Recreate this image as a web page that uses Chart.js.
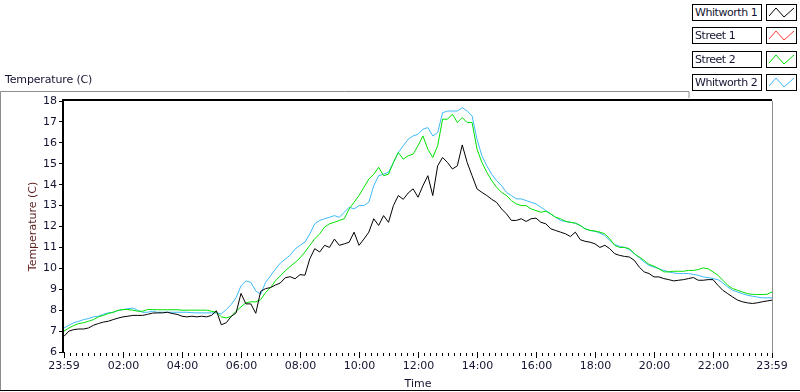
<!DOCTYPE html>
<html>
<head>
<meta charset="utf-8">
<script src="https://cdn.jsdelivr.net/npm/chart.js@4/dist/chart.umd.min.js"></script>
<style>
  html, body { margin: 0; padding: 0; background: #fff; }
  #wrap { position: relative; width: 800px; height: 392px; overflow: hidden; font-family: "DejaVu Sans", sans-serif; }
  #chart { position: absolute; left: 0; top: 0; }
  .caption { position: absolute; left: 5px; top: 73px; font-size: 11px; color: #141432; letter-spacing: -0.15px; }
  .legend-name { position: absolute; left: 692px; width: 70px; height: 17px; box-sizing: border-box; border: 1px solid #000;
                 font-size: 11px; line-height: 15px; padding-left: 2px; color: #141432; background: #fff; white-space: nowrap;
                 letter-spacing: -0.45px; overflow: hidden; }
  .legend-icon { position: absolute; left: 766px; width: 31px; height: 17px; box-sizing: border-box; border: 1px solid #000; background: #fff; }
  .legend-icon svg { position: absolute; left: 0; top: 0; }
</style>
</head>
<body>
<div id="wrap">
  <canvas id="chart" width="800" height="392"></canvas>
  <div class="caption">Temperature (C)</div>
  <div id="legend"></div>
</div>
<script>
        // minutes after 23:59 of the previous day, one sample every 10 minutes
        const sampleMinutes = [
            0, 10, 20, 30, 40, 50, 60, 70, 80, 90, 100, 110, 120, 130, 140, 150, 160, 170, 180, 190,
            200, 210, 220, 230, 240, 250, 260, 270, 280, 290, 300, 310, 320, 330, 340, 350, 360, 370, 380, 390,
            400, 410, 420, 430, 440, 450, 460, 470, 480, 490, 500, 510, 520, 530, 540, 550, 560, 570, 580, 590,
            600, 610, 620, 630, 640, 650, 660, 670, 680, 690, 700, 710, 720, 730, 740, 750, 760, 770, 780, 790,
            800, 810, 820, 830, 840, 850, 860, 870, 880, 890, 900, 910, 920, 930, 940, 950, 960, 970, 980, 990,
            1000, 1010, 1020, 1030, 1040, 1050, 1060, 1070, 1080, 1090, 1100, 1110, 1120, 1130, 1140, 1150, 1160, 1170, 1180, 1190,
            1200, 1210, 1220, 1230, 1240, 1250, 1260, 1270, 1280, 1290, 1300, 1310, 1320, 1330, 1340, 1350, 1360, 1370, 1380, 1390,
            1400, 1410, 1420, 1430, 1440
        ];

        const whitworth1 = [
            6.75, 7.0, 7.07, 7.1, 7.1, 7.15, 7.28, 7.36, 7.43, 7.47, 7.55, 7.62, 7.68, 7.71, 7.75, 7.75, 7.75, 7.8, 7.86, 7.87,
            7.87, 7.9, 7.84, 7.8, 7.71, 7.68, 7.71, 7.68, 7.71, 7.68, 7.75, 7.97, 7.3, 7.4, 7.7, 7.87, 8.8, 8.3, 8.3, 7.85,
            8.9, 9.03, 9.08, 9.2, 9.3, 9.55, 9.6, 9.5, 9.7, 9.67, 10.46, 10.94, 10.78, 11.1, 11.0, 11.4, 11.1, 11.17, 11.25, 11.73,
            11.1, 11.4, 11.73, 12.37, 12.05, 12.52, 12.2, 13.0, 13.48, 13.3, 13.6, 13.8, 13.4, 13.95, 14.43, 13.48, 14.9, 15.3, 15.06, 14.75,
            14.9, 15.9, 15.06, 14.43, 13.8, 13.63, 13.48, 13.3, 13.15, 12.84, 12.6, 12.29, 12.29, 12.37, 12.24, 12.37, 12.4, 12.2, 12.13, 11.89,
            11.81, 11.73, 11.65, 11.52, 11.73, 11.37, 11.29, 11.25, 11.17, 11.0, 11.1, 10.94, 10.7, 10.62, 10.57, 10.54, 10.38, 10.06, 9.83, 9.75,
            9.59, 9.59, 9.51, 9.46, 9.4, 9.43, 9.46, 9.51, 9.56, 9.43, 9.43, 9.46, 9.46, 9.19, 8.95, 8.79, 8.63, 8.48, 8.4, 8.35,
            8.32, 8.35, 8.4, 8.44, 8.48
        ];

        // Street 1 has no readings on this chart
        const street1 = [];

        const street2 = [
            7.0, 7.15, 7.27, 7.36, 7.4, 7.47, 7.55, 7.68, 7.75, 7.84, 7.9, 7.99, 8.03, 8.03, 8.0, 7.95, 7.95, 8.03, 8.03, 8.02,
            8.02, 8.02, 8.02, 8.02, 8.0, 8.0, 8.0, 8.0, 8.0, 8.0, 7.95, 7.9, 7.68, 7.63, 7.7, 7.95, 8.16, 8.35, 8.4, 8.4,
            8.5, 8.84, 9.08, 9.4, 9.64, 9.88, 10.09, 10.28, 10.5, 10.78, 11.1, 11.41, 11.65, 11.97, 12.13, 12.2, 12.29, 12.37, 12.84, 13.16,
            13.48, 13.87, 14.27, 14.5, 14.83, 14.43, 14.5, 15.06, 15.54, 15.22, 15.38, 15.46, 15.86, 16.33, 15.7, 15.3, 15.86, 17.13, 17.13, 17.37,
            16.97, 17.21, 16.97, 16.97, 15.7, 15.06, 14.59, 14.19, 13.87, 13.63, 13.48, 13.24, 13.08, 13.0, 13.0, 12.84, 12.76, 12.68, 12.73, 12.6,
            12.44, 12.37, 12.25, 12.2, 12.16, 12.05, 11.89, 11.81, 11.78, 11.73, 11.65, 11.41, 11.1, 11.0, 11.0, 10.94, 10.7, 10.54, 10.38, 10.19,
            10.1, 9.98, 9.83, 9.83, 9.86, 9.86, 9.86, 9.9, 9.9, 9.94, 10.02, 9.98, 9.83, 9.67, 9.43, 9.19, 9.03, 8.95, 8.87, 8.79,
            8.76, 8.75, 8.75, 8.76, 8.87
        ];

        const whitworth2 = [
            7.15, 7.28, 7.4, 7.47, 7.55, 7.6, 7.68, 7.71, 7.8, 7.87, 7.9, 7.99, 8.03, 8.07, 8.1, 7.99, 7.9, 7.9, 7.95, 7.9,
            7.9, 7.9, 7.9, 7.9, 7.9, 7.9, 7.88, 7.87, 7.87, 7.87, 7.87, 7.87, 7.82, 8.03, 8.27, 8.6, 9.16, 9.4, 9.33, 8.92,
            8.76, 9.33, 9.64, 9.96, 10.25, 10.44, 10.63, 10.92, 11.1, 11.25, 11.65, 12.13, 12.29, 12.37, 12.44, 12.52, 12.44, 12.68, 12.92, 12.84,
            13.0, 13.0, 13.16, 13.95, 14.43, 14.5, 14.59, 15.06, 15.54, 15.86, 16.17, 16.33, 16.41, 16.65, 16.73, 16.33, 16.49, 17.44, 17.52, 17.52,
            17.52, 17.68, 17.52, 17.29, 16.17, 15.38, 14.9, 14.5, 14.19, 13.95, 13.63, 13.48, 13.32, 13.32, 13.24, 13.16, 13.08, 12.92, 12.76, 12.6,
            12.44, 12.29, 12.24, 12.2, 12.16, 12.05, 11.89, 11.81, 11.78, 11.68, 11.57, 11.33, 11.14, 11.05, 11.0, 10.89, 10.7, 10.51, 10.3, 10.14,
            10.06, 9.98, 9.9, 9.83, 9.78, 9.75, 9.75, 9.75, 9.71, 9.67, 9.59, 9.56, 9.51, 9.46, 9.3, 9.11, 8.95, 8.87, 8.79, 8.71,
            8.67, 8.63, 8.59, 8.59, 8.59
        ];

        const seriesNames = ['Whitworth 1', 'Street 1', 'Street 2', 'Whitworth 2'];
        const seriesColors = ['#000000', '#ff3b3b', '#00e000', '#3cb9f7'];

        const tickMinutes = [0, 121, 241, 361, 481, 601, 721, 841, 961, 1081, 1201, 1321, 1440];
        const tickLabels = ['23:59', '02:00', '04:00', '06:00', '08:00', '10:00', '12:00', '14:00', '16:00', '18:00', '20:00', '22:00', '23:59'];

        const textColor = '#141432';
        const fontFamily = '"DejaVu Sans", sans-serif';

        function toPoints(values) {
            return values.map((v, i) => ({ x: sampleMinutes[i], y: v }));
        }

        // LabVIEW style frame plus the small minor ticks every 12 minutes
        const framePlugin = {
            id: 'frame',
            afterDraw(chart) {
                const ctx = chart.ctx;
                const area = chart.chartArea;
                const xScale = chart.scales.x;
                ctx.save();

                ctx.strokeStyle = '#000';
                ctx.lineWidth = 1;
                ctx.beginPath();
                for (let m = tickMinutes[1] + 12; m < 1440; m += 12) {
                    if ((m - tickMinutes[1]) % 120 === 0) continue;
                    const px = Math.round(xScale.getPixelForValue(m)) + 0.5;
                    ctx.moveTo(px, area.bottom + 1);
                    ctx.lineTo(px, area.bottom + 4);
                }
                for (let m = tickMinutes[1] - 12; m > 0; m -= 12) {
                    const px = Math.round(xScale.getPixelForValue(m)) + 0.5;
                    ctx.moveTo(px, area.bottom + 1);
                    ctx.lineTo(px, area.bottom + 4);
                }
                ctx.stroke();

                // plot box: dark top / left, light right
                ctx.lineWidth = 2;
                ctx.beginPath();
                ctx.moveTo(area.left - 1, area.bottom);
                ctx.lineTo(area.left - 1, area.top - 1);
                ctx.lineTo(area.right, area.top - 1);
                ctx.stroke();
                ctx.lineWidth = 1;
                ctx.strokeStyle = '#8c8c8c';
                ctx.beginPath();
                ctx.moveTo(area.right + 0.5, area.top);
                ctx.lineTo(area.right + 0.5, area.bottom + 1);
                ctx.stroke();

                // outer frame
                ctx.strokeStyle = '#8c8c8c';
                ctx.beginPath();
                ctx.moveTo(0.5, 391);
                ctx.lineTo(0.5, 91.5);
                ctx.lineTo(689, 91.5);
                ctx.lineTo(689, 98);
                ctx.stroke();
                ctx.strokeStyle = '#000';
                ctx.beginPath();
                ctx.moveTo(0, 390.5);
                ctx.lineTo(800, 390.5);
                ctx.stroke();
                ctx.restore();
            }
        };

        const seriesValues = [whitworth1, street1, street2, whitworth2];

        const ctx = document.getElementById('chart').getContext('2d');
        const myChart = new Chart(ctx, {
            type: 'line',
            data: {
                datasets: seriesNames.map((name, i) => ({
                    label: name,
                    data: toPoints(seriesValues[i]),
                    borderColor: seriesColors[i],
                    borderWidth: 1,
                    pointRadius: 0,
                    tension: 0,
                    fill: false
                }))
            },
            options: {
                responsive: false,
                animation: false,
                layout: { padding: { left: 0, right: 28, top: 101, bottom: 0 } },
                plugins: {
                    legend: { display: false },
                    tooltip: { enabled: false }
                },
                scales: {
                    x: {
                        type: 'linear',
                        min: 0,
                        max: 1440,
                        border: { display: false },
                        grid: { drawOnChartArea: false, drawTicks: true, tickLength: 6, tickColor: '#000', tickWidth: 1 },
                        afterBuildTicks: scale => {
                            scale.ticks = tickMinutes.map(v => ({ value: v }));
                        },
                        afterFit: scale => { scale.height = 40; },
                        ticks: {
                            autoSkip: false,
                            maxRotation: 0,
                            padding: 2,
                            color: textColor,
                            font: { family: fontFamily, size: 11 },
                            callback: (value, index) => tickLabels[index]
                        },
                        title: {
                            display: true,
                            text: 'Time',
                            color: textColor,
                            font: { family: fontFamily, size: 11 },
                            padding: { top: 0, bottom: 1 }
                        }
                    },
                    y: {
                        min: 6,
                        max: 18,
                        border: { display: false },
                        grid: { drawOnChartArea: false, tickLength: 5, tickColor: '#000' },
                        afterFit: scale => { scale.width = 64; },
                        ticks: {
                            stepSize: 1,
                            padding: 2,
                            color: textColor,
                            font: { family: fontFamily, size: 11 }
                        },
                        title: {
                            display: true,
                            text: 'Temperature (C)',
                            color: '#5a1e1e',
                            font: { family: fontFamily, size: 11 },
                            padding: { top: 27, bottom: 0 }
                        }
                    }
                }
            },
            plugins: [framePlugin]
        });

        // legend: name box + small zigzag sample, like the LabVIEW plot legend
        const legendTops = [4, 27, 51, 74];
        const legendEl = document.getElementById('legend');
        seriesNames.forEach((name, i) => {
            const nameBox = document.createElement('div');
            nameBox.className = 'legend-name';
            nameBox.style.top = legendTops[i] + 'px';
            nameBox.textContent = name;
            legendEl.appendChild(nameBox);

            const icon = document.createElement('div');
            icon.className = 'legend-icon';
            icon.style.top = legendTops[i] + 'px';
            icon.innerHTML = '<svg width="29" height="15"><polyline points="2,11 9,3 17,12 27,3" fill="none" stroke="' +
                seriesColors[i] + '" stroke-width="1"/></svg>';
            legendEl.appendChild(icon);
        });
</script>
</body>
</html>
